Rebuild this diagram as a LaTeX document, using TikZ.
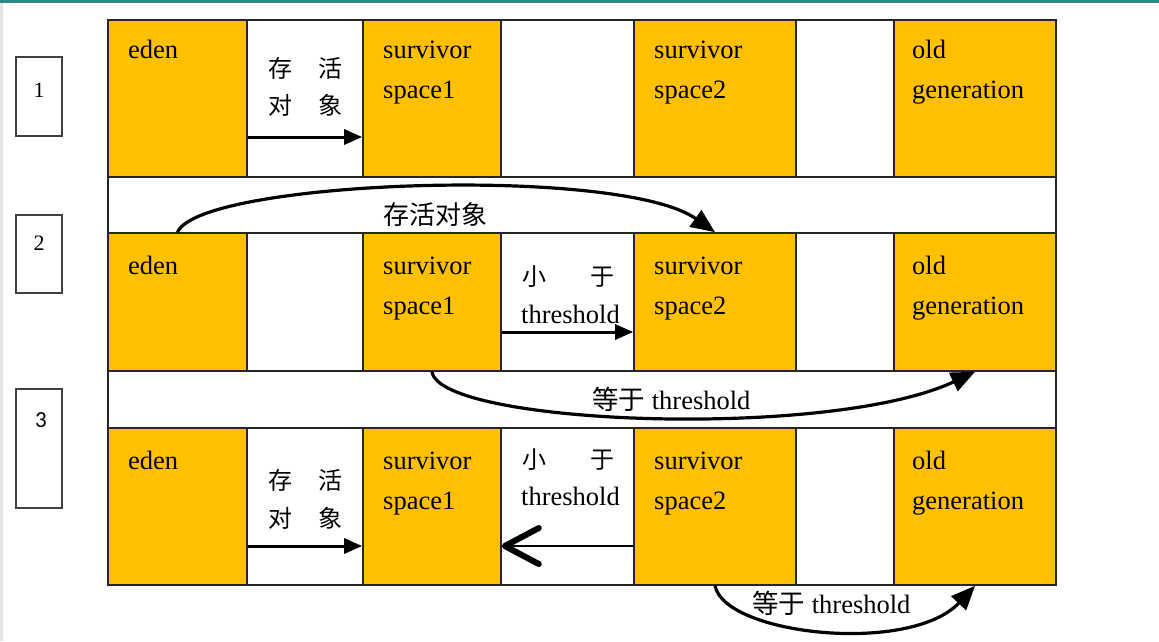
\documentclass[tikz,border=0pt]{standalone}
\usepackage{fontspec}
\setmainfont{Liberation Serif}
\newfontfamily\cjk{Noto Sans CJK SC}
\newfontfamily\digitsans{Carlito}
\usetikzlibrary{arrows.meta}
\definecolor{gengold}{HTML}{FFC000}
\definecolor{topteal}{HTML}{2E8A85}
\definecolor{edgegray}{HTML}{E2E4E8}

\tikzset{
  gold/.style={draw=black!85,fill=gengold,line width=1.6pt,inner sep=0pt},
  blank/.style={draw=black!85,fill=white,line width=1.6pt,inner sep=0pt},
  rowbox/.style={draw=black!75,line width=1.4pt,inner sep=0pt,minimum width=46},
  txt/.style={anchor=base west,inner sep=0pt,font=\fontsize{26.5}{30}\selectfont},
  cjktxt/.style={anchor=west,inner sep=0pt,font=\fontsize{24}{28}\selectfont\cjk},
  move/.style={line width=3pt,-{Triangle[length=18pt,width=15pt]}},
  bent/.style={line width=3.2pt,-{Triangle[length=24pt,width=20pt]}}
}

\begin{document}
\begin{tikzpicture}[x=1pt,y=-1pt]
   \useasboundingbox (0,0) rectangle (1159,641);
   \fill[white] (0,0) rectangle (1159,641);
   \fill[topteal] (0,0) rectangle (1159,2.5);
   \fill[edgegray] (0,3) rectangle (2.5,641);
   % outer frame with the white strips
   \draw[black!85,line width=1.6pt] (108,20) rectangle (1056,585);
   % row 1
   \node (e1)  at ( 177.5, 98.5) [gold, minimum width=139,minimum height=157] {};
   \node (ga1) at ( 305  , 98.5) [blank,minimum width=116,minimum height=157] {};
   \node (sa1) at ( 432  , 98.5) [gold, minimum width=138,minimum height=157] {};
   \node (gb1) at ( 567.5, 98.5) [blank,minimum width=133,minimum height=157] {};
   \node (sb1) at ( 715  , 98.5) [gold, minimum width=162,minimum height=157] {};
   \node (gc1) at ( 845  , 98.5) [blank,minimum width= 98,minimum height=157] {};
   \node (o1)  at ( 975  , 98.5) [gold, minimum width=162,minimum height=157] {};
   % row 2
   \node (e2)  at ( 177.5,302  ) [gold, minimum width=139,minimum height=138] {};
   \node (ga2) at ( 305  ,302  ) [blank,minimum width=116,minimum height=138] {};
   \node (sa2) at ( 432  ,302  ) [gold, minimum width=138,minimum height=138] {};
   \node (gb2) at ( 567.5,302  ) [blank,minimum width=133,minimum height=138] {};
   \node (sb2) at ( 715  ,302  ) [gold, minimum width=162,minimum height=138] {};
   \node (gc2) at ( 845  ,302  ) [blank,minimum width= 98,minimum height=138] {};
   \node (o2)  at ( 975  ,302  ) [gold, minimum width=162,minimum height=138] {};
   % row 3
   \node (e3)  at ( 177.5,506.5) [gold, minimum width=139,minimum height=157] {};
   \node (ga3) at ( 305  ,506.5) [blank,minimum width=116,minimum height=157] {};
   \node (sa3) at ( 432  ,506.5) [gold, minimum width=138,minimum height=157] {};
   \node (gb3) at ( 567.5,506.5) [blank,minimum width=133,minimum height=157] {};
   \node (sb3) at ( 715  ,506.5) [gold, minimum width=162,minimum height=157] {};
   \node (gc3) at ( 845  ,506.5) [blank,minimum width= 98,minimum height=157] {};
   \node (o3)  at ( 975  ,506.5) [gold, minimum width=162,minimum height=157] {};
   % row numbers
   \node (n1) at (39, 96.5) [rowbox,minimum height= 79] {};
   \node (n2) at (39,254  ) [rowbox,minimum height= 78] {};
   \node (n3) at (39,448.5) [rowbox,minimum height=119] {};
   \node (d1) at (39, 90) [inner sep=0pt,font=\fontsize{22}{26}\selectfont] {1};
   \node (d2) at (39,243) [inner sep=0pt,font=\fontsize{22}{26}\selectfont] {2};
   \node (d3) at (41,420) [inner sep=0pt,font=\fontsize{23}{26}\selectfont\digitsans] {3};
   % cell texts
   \node (te1) at (128, 58) [txt] {eden};
   \node (ta1) at (383, 58) [txt] {survivor};
   \node (tA1) at (383, 98) [txt] {space1};
   \node (tb1) at (654, 58) [txt] {survivor};
   \node (tB1) at (654, 98) [txt] {space2};
   \node (to1) at (912, 58) [txt] {old};
   \node (tO1) at (912, 98) [txt] {generation};
   \node (te2) at (128,274) [txt] {eden};
   \node (ta2) at (383,274) [txt] {survivor};
   \node (tA2) at (383,314) [txt] {space1};
   \node (tb2) at (654,274) [txt] {survivor};
   \node (tB2) at (654,314) [txt] {space2};
   \node (to2) at (912,274) [txt] {old};
   \node (tO2) at (912,314) [txt] {generation};
   \node (te3) at (128,469) [txt] {eden};
   \node (ta3) at (383,469) [txt] {survivor};
   \node (tA3) at (383,509) [txt] {space1};
   \node (tb3) at (654,469) [txt] {survivor};
   \node (tB3) at (654,509) [txt] {space2};
   \node (to3) at (912,469) [txt] {old};
   \node (tO3) at (912,509) [txt] {generation};
   % move labels
   \node (live1a) at (268, 68) [cjktxt] {存\hspace{26pt}活};
   \node (live1b) at (268,105) [cjktxt] {对\hspace{26pt}象};
   \node (live3a) at (268,480) [cjktxt] {存\hspace{26pt}活};
   \node (live3b) at (268,518) [cjktxt] {对\hspace{26pt}象};
   \node (less2)  at (522,277) [cjktxt] {小\hspace{44pt}于};
   \node (less2t) at (521,323) [txt] {threshold};
   \node (less3)  at (522,460) [cjktxt] {小\hspace{44pt}于};
   \node (less3t) at (521,505) [txt] {threshold};
   \node (live2)  at (383,215) [cjktxt,font=\fontsize{26}{30}\selectfont\cjk] {存活对象};
   \node (eq2)    at (592,409) [txt] {{\cjk 等于} threshold};
   \node (eq3)    at (752,613) [txt] {{\cjk 等于} threshold};
   % arrows
   \draw[move] ([yshift=-38.5pt]e1.east) -- ([yshift=-38.5pt]sa1.west);
   \draw[move] ([yshift=-30pt]sa2.east) -- ([yshift=-30pt]sb2.west);
   \draw[move] ([yshift=-39.5pt]e3.east) -- ([yshift=-39.5pt]sa3.west);
   \draw[line width=2pt,-{Straight Barb[length=34pt,width=36pt,line width=6pt,round]}]
      ([yshift=-39.5pt]sb3.west) -- ([yshift=-39.5pt]sa3.east);
   \draw[bent] (e2.north) .. controls (200,180) and (620,165) .. (sb2.north);
   \draw[bent] (sa2.south) .. controls (440,425) and (830,440) .. (o2.south);
   \draw[bent] (sb3.south) .. controls (725,635) and (910,655) .. (o3.south);
\end{tikzpicture}
\end{document}
